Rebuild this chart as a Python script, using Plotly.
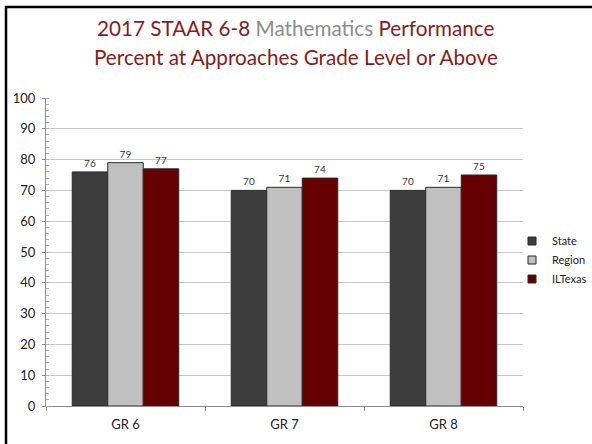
import plotly.graph_objects as go

categories = ["GR 6", "GR 7", "GR 8"]
state = [76, 70, 70]
region = [79, 71, 71]
iltexas = [77, 74, 75]
series_names = ["State", "Region", "ILTexas"]
colors = ["#3d3d3d", "#c0c0c0", "#660000"]

W, H = 592, 444
ml, mr, mt, mb = 46, 69, 98, 38
pw, ph = W - ml - mr, H - mt - mb

fig = go.Figure()
for name, vals, col in zip(series_names, [state, region, iltexas], colors):
    fig.add_trace(go.Bar(
        x=categories, y=vals, name=name, showlegend=False,
        marker=dict(color=col, line=dict(color="#2b2b2b", width=1)),
        text=[str(v) for v in vals], textposition="outside",
        textfont=dict(size=10, color="#333333", family="Lato"),
        cliponaxis=False,
    ))
# legend entries (small square swatches like the original)
for name, col in zip(series_names, colors):
    fig.add_trace(go.Scatter(
        x=[None], y=[None], mode="markers", name=name,
        marker=dict(symbol="square", size=8, color=col,
                    line=dict(color="#2b2b2b", width=1)),
    ))

def px_x(p):
    return (p - ml) / pw

def px_y(p):
    return (H - mb - p) / ph

title_red = "#8b1a1a"
fig.update_layout(
    width=W, height=H,
    margin=dict(l=ml, r=mr, t=mt, b=mb, autoexpand=False),
    paper_bgcolor="white", plot_bgcolor="white",
    barmode="group", bargap=0.33, bargroupgap=0,
    font=dict(family="Lato", color="#222222"),
    showlegend=True,
    legend=dict(xref="container", yref="container",
                x=512 / W, y=1 - 260 / H, xanchor="left", yanchor="middle",
                font=dict(size=11, color="#222222"), itemwidth=30,
                tracegroupgap=0, bgcolor="rgba(0,0,0,0)"),
    xaxis=dict(showgrid=False, showline=True, linecolor="#8c8c8c", linewidth=1,
               ticks="outside", ticklen=4, tickcolor="#8c8c8c", tickson="boundaries",
               ticklabelstandoff=6,
               tickfont=dict(size=13, color="#222222")),
    yaxis=dict(range=[0, 100], dtick=10, showgrid=True, gridcolor="#c8c8c8",
               showline=True, linecolor="#8c8c8c", linewidth=1,
               ticks="outside", ticklen=3, tickcolor="#8c8c8c",
               ticklabelstandoff=4,
               tickfont=dict(size=13, color="#222222"),
               minor=dict(ticks="inside", ticklen=3, dtick=2, tickcolor="#b0b0b0",
                          showgrid=False),
               zeroline=False),
    annotations=[
        dict(x=px_x(296), y=px_y(28), xref="paper", yref="paper",
             xanchor="center", yanchor="middle", showarrow=False,
             text=(f"<span style='color:{title_red}'>2017 STAAR 6-8 </span>"
                   "<span style='color:#8c8c8c'>Mathematics </span>"
                   f"<span style='color:{title_red}'>Performance</span>"),
             font=dict(size=20.7, family="Lato", color=title_red)),
        dict(x=px_x(296), y=px_y(57), xref="paper", yref="paper",
             xanchor="center", yanchor="middle", showarrow=False,
             text="Percent at Approaches Grade Level or Above",
             font=dict(size=20.7, family="Lato", color=title_red)),
    ],
    shapes=[
        dict(type="line", xref="paper", yref="paper",
             x0=px_x(6), x1=px_x(6), y0=px_y(6), y1=px_y(H + 5),
             line=dict(color="black", width=2.5)),
        dict(type="line", xref="paper", yref="paper",
             x0=px_x(5), x1=px_x(W + 5), y0=px_y(7), y1=px_y(7),
             line=dict(color="black", width=2.5)),
    ],
)

fig.write_html("out.html", config={"displayModeBar": False},
               post_script="document.body.style.margin='0px';")
